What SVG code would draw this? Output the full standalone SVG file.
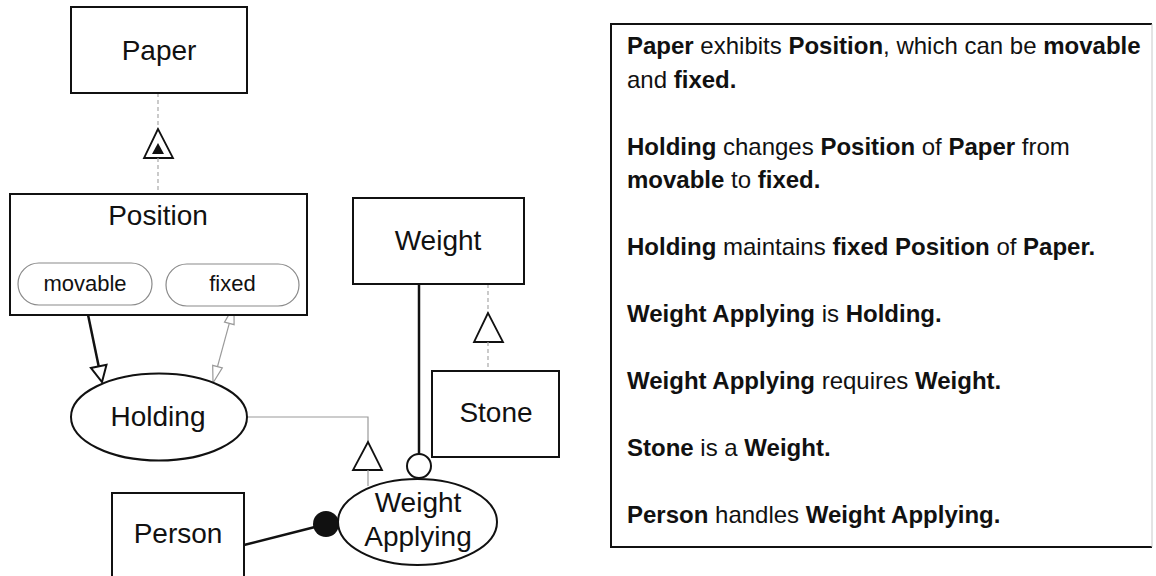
<svg xmlns="http://www.w3.org/2000/svg" width="1156" height="576" viewBox="0 0 1156 576">
  <style>
    .box { fill: #fff; stroke: #111; stroke-width: 2; }
    .state { fill: #fff; stroke: #8a8a8a; stroke-width: 1.2; }
    .lbl { font-family: "Liberation Sans", Arial, sans-serif; font-size: 28px; fill: #111; text-anchor: middle; }
    .slbl { font-family: "Liberation Sans", Arial, sans-serif; font-size: 22px; fill: #111; text-anchor: middle; }
    .txt { font-family: "Liberation Sans", Arial, sans-serif; font-size: 24px; fill: #111; }
    .b { font-weight: bold; }
    .thin { fill: none; stroke: #9a9a9a; stroke-width: 1.2; }
    .dash { fill: none; stroke: #a8a8a8; stroke-width: 1.2; stroke-dasharray: 4 3; }
    .tri { fill: #fff; stroke: #111; stroke-width: 1.8; }
    .thick { fill: none; stroke: #111; stroke-width: 2.5; }
    .head { fill: #fff; stroke: #111; stroke-width: 2; }
    .headg { fill: #fff; stroke: #999; stroke-width: 1.2; }
  </style>

  <!-- connectors -->
  <g id="connectors">
    <!-- Paper exhibits Position -->
    <line class="dash" x1="158" y1="93" x2="158" y2="129"/>
    <polygon class="tri" points="158,129 144,158 173,158"/>
    <polygon fill="#111" points="158,143 152,154 164,154"/>
    <line class="dash" x1="158" y1="158" x2="158" y2="194"/>

    <!-- movable consumed by Holding -->
    <line class="thick" x1="86" y1="305" x2="98.7" y2="366.3"/>
    <polygon class="head" points="102,382 106.5,364.7 90.9,367.9"/>

    <!-- Holding to fixed, bidirectional -->
    <line class="thin" x1="229.3" y1="323.4" x2="217.5" y2="366.6"/>
    <polygon class="headg" points="234,306 234.1,324.7 224.5,322.1"/>
    <polygon class="headg" points="213,383 222.3,367.9 212.7,365.3"/>

    <!-- Weight Applying is Holding -->
    <polyline class="thin" points="247,417 368,417 368,442"/>
    <polygon class="tri" points="368,442 353,470 382,470"/>
    <line class="thin" x1="368" y1="470" x2="368" y2="486"/>

    <!-- Stone is a Weight -->
    <line class="dash" x1="488" y1="284" x2="488" y2="313"/>
    <polygon class="tri" points="488,313 474,342 503,342"/>
    <line class="dash" x1="488" y1="342" x2="488" y2="371"/>

    <!-- Weight is instrument of Weight Applying -->
    <line class="thick" x1="419" y1="284" x2="419" y2="454"/>
    <circle cx="419" cy="466" r="12" fill="#fff" stroke="#111" stroke-width="2"/>

    <!-- Person is agent of Weight Applying -->
    <line class="thick" x1="244" y1="545" x2="315" y2="527"/>
    <circle cx="326" cy="524" r="13" fill="#111"/>
  </g>

  <g id="paper">
    <rect class="box" x="71" y="7" width="176" height="86"/>
    <text class="lbl" x="159" y="60">Paper</text>
  </g>

  <g id="position">
    <rect class="box" x="10" y="194" width="297" height="121"/>
    <text class="lbl" x="158" y="225">Position</text>
    <g id="state-movable">
      <rect class="state" x="18" y="263" width="134" height="42" rx="21" ry="21"/>
      <text class="slbl" x="85" y="291">movable</text>
    </g>
    <g id="state-fixed">
      <rect class="state" x="166" y="264" width="133" height="42" rx="21" ry="21"/>
      <text class="slbl" x="232.5" y="291">fixed</text>
    </g>
  </g>

  <g id="holding">
    <ellipse class="box" cx="159" cy="417" rx="88" ry="43.5"/>
    <text class="lbl" x="158" y="426">Holding</text>
  </g>

  <g id="weight">
    <rect class="box" x="353" y="198" width="171" height="86"/>
    <text class="lbl" x="438" y="250">Weight</text>
  </g>

  <g id="stone">
    <rect class="box" x="432" y="371" width="127" height="86"/>
    <text class="lbl" x="496" y="422">Stone</text>
  </g>

  <g id="weight-applying">
    <ellipse class="box" cx="417.5" cy="522" rx="79.5" ry="43"/>
    <text class="lbl" x="418" y="512">Weight</text>
    <text class="lbl" x="418" y="546">Applying</text>
  </g>

  <g id="person">
    <rect class="box" x="112" y="493" width="132" height="95"/>
    <text class="lbl" x="178" y="543">Person</text>
  </g>

  <!-- description panel -->
  <g id="description">
    <rect x="611" y="24" width="541" height="523" fill="#fff" stroke="none"/>
    <path d="M1152,24 H611 V547 H1152" fill="none" stroke="#111" stroke-width="2"/>
    <line x1="1152" y1="24" x2="1152" y2="547" stroke="#c8c8c8" stroke-width="1"/>
    <text class="txt" x="627" y="54"><tspan class="b">Paper</tspan> exhibits <tspan class="b">Position</tspan>, which can be <tspan class="b">movable</tspan></text>
    <text class="txt" x="627" y="87.5">and <tspan class="b">fixed.</tspan></text>
    <text class="txt" x="627" y="154.5"><tspan class="b">Holding</tspan> changes <tspan class="b">Position</tspan> of <tspan class="b">Paper</tspan> from</text>
    <text class="txt" x="627" y="188"><tspan class="b">movable</tspan> to <tspan class="b">fixed.</tspan></text>
    <text class="txt" x="627" y="255"><tspan class="b">Holding</tspan> maintains <tspan class="b">fixed Position</tspan> of <tspan class="b">Paper.</tspan></text>
    <text class="txt" x="627" y="322"><tspan class="b">Weight Applying</tspan> is <tspan class="b">Holding.</tspan></text>
    <text class="txt" x="627" y="389"><tspan class="b">Weight Applying</tspan> requires <tspan class="b">Weight.</tspan></text>
    <text class="txt" x="627" y="456"><tspan class="b">Stone</tspan> is a <tspan class="b">Weight.</tspan></text>
    <text class="txt" x="627" y="523"><tspan class="b">Person</tspan> handles <tspan class="b">Weight Applying.</tspan></text>
  </g>
</svg>
